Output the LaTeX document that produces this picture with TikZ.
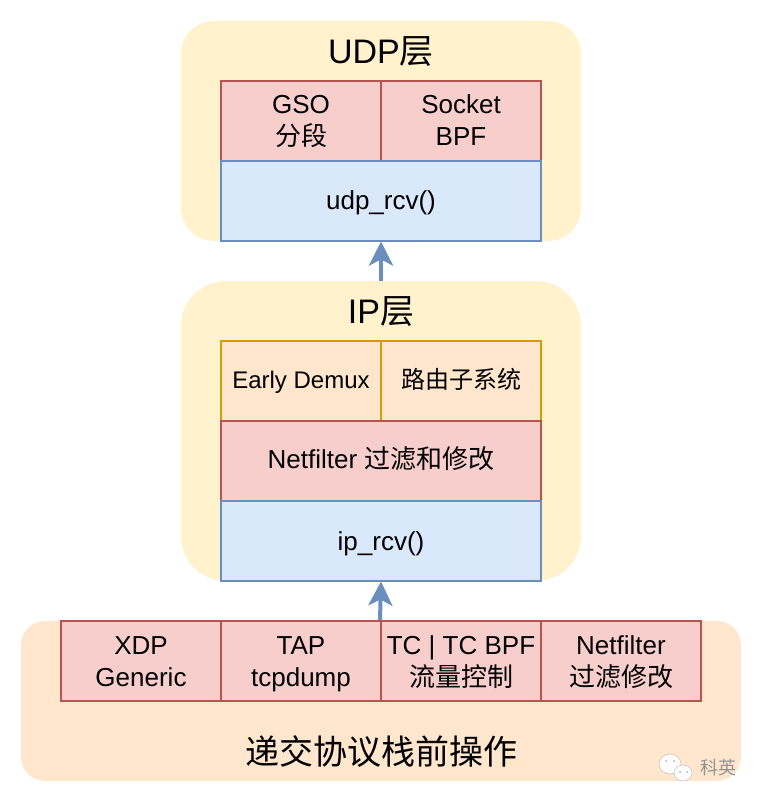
\documentclass[tikz,border=0pt]{standalone}
\usepackage{fontspec}
\setmainfont{Liberation Sans}
\newfontfamily\cjk{Noto Sans CJK SC}
\usetikzlibrary{arrows.meta,shapes.geometric}
\definecolor{layerfill}{HTML}{FFF2CC}
\definecolor{orangefill}{HTML}{FFE6CC}
\definecolor{orangeline}{HTML}{D79B00}
\definecolor{redfill}{HTML}{F8CECC}
\definecolor{redline}{HTML}{B85450}
\definecolor{bluefill}{HTML}{DAE8FC}
\definecolor{blueline}{HTML}{6C8EBF}
\newcommand{\zh}[1]{{\cjk #1}}
\newcommand{\fs}[1]{\fontsize{#1}{32}\selectfont}
\newcommand{\ls}{\rule[-7pt]{0pt}{32pt}}
\newcommand{\lo}{\rule[-9pt]{0pt}{32pt}}
\tikzset{
  cell/.style={draw, line width=2pt, inner sep=0pt, align=center, minimum height=80pt, font=\fs{26}},
  half/.style={cell, minimum width=160pt},
  full/.style={cell, minimum width=320pt},
  redcell/.style={draw=redline, fill=redfill},
  bluecell/.style={draw=blueline, fill=bluefill},
  orangecell/.style={draw=orangeline, fill=orangefill, font=\fs{24}},
  title/.style={inner sep=0pt, font=\fs{34}},
  bubble/.style={draw=gray!45, fill=white, ellipse, line width=0.6pt, inner sep=0pt},
  eye/.style={circle, fill=gray!60, inner sep=0pt, minimum size=2pt},
  flow/.style={line width=4pt, draw=blueline, -{Stealth[length=24pt,width=24pt,inset=6pt]}, shorten >=-0.5pt}
}

\begin{document}
\begin{tikzpicture}[x=1pt,y=-1pt]
        \useasboundingbox (0,0) rectangle (762,802);

        % background panels
        \node[fill=layerfill, rounded corners=33pt, minimum width=400pt, minimum height=220pt, inner sep=0pt] (udplayer) at (381,131) {};
        \node[fill=layerfill, rounded corners=45pt, minimum width=400pt, minimum height=300pt, inner sep=0pt] (iplayer) at (381,431) {};
        \node[fill=orangefill, rounded corners=24pt, minimum width=720pt, minimum height=160pt, inner sep=0pt] (prelayer) at (381,701) {};

        \node[title] (udptitle) at (381,52) {UDP\zh{层}};
        \node[title] (iptitle) at (381,312) {IP\zh{层}};
        \node[title] (pretitle) at (381,752) {\zh{递交协议栈前操作}};

        % udp stack
        \node[half, redcell] (gso) at (301,121) {\ls GSO\\\ls\zh{分段}};
        \node[half, redcell] (socketbpf) at (461,121) {\ls Socket\\\ls BPF};
        \node[full, bluecell] (udprcv) at (381,201) {\ls udp\_rcv()};

        % ip stack
        \node[half, orangecell] (demux) at (301,381) {\lo Early Demux};
        \node[half, orangecell] (routing) at (461,381) {\lo\zh{路由子系统}};
        \node[full, redcell] (netfilter) at (381,461) {\lo Netfilter \zh{过滤和修改}};
        \node[full, bluecell] (iprcv) at (381,541) {\ls ip\_rcv()};

        % bottom row
        \foreach \name/\cx/\txt in {xdp/141/{\ls XDP\\\ls Generic},tap/301/{\ls TAP\\\ls tcpdump},tc/461/{\ls TC | TC BPF\\\ls\zh{流量控制}},nfpre/621/{\ls Netfilter\\\ls\zh{过滤修改}}}
        \node[half, redcell] (\name) at (\cx,661) {\txt};

        \draw[flow] (iplayer.north) -- (udprcv.south);
        \draw[flow] (tc.north west) -- (iprcv.south);

        % watermark
        \node[bubble, minimum width=22pt, minimum height=20pt] (bubbleback) at (670,764) {};
        \node[bubble, minimum width=18pt, minimum height=16pt] (bubblefront) at (683,773) {};
        \foreach \ex/\ey in {666/761,674/761,680/772,687/772}
        \node[eye] at (\ex,\ey) {};
        \node[inner sep=0pt, text=gray!85, font=\fs{18}] (mark) at (718,768) {\zh{科英}};
\end{tikzpicture}
\end{document}
